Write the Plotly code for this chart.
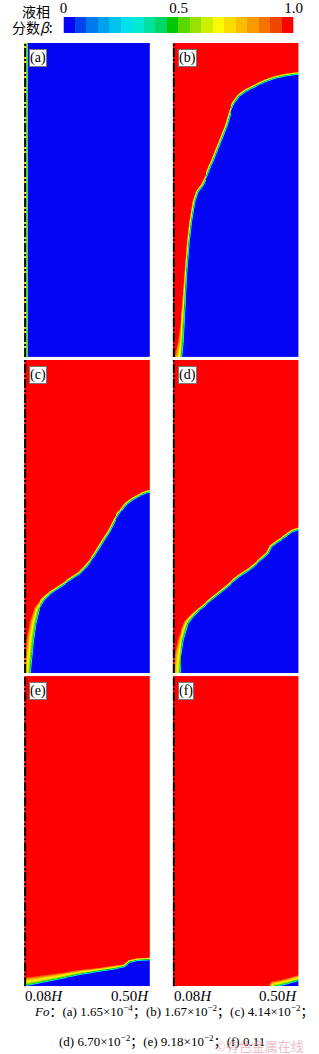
import numpy as np
import plotly.graph_objects as go

# ---------------- data ----------------
# legend colour levels (liquid fraction beta, 20 bands from 0 to 1)
level_colors = [
    "rgb(5,5,245)", "rgb(0,70,240)", "rgb(0,120,238)", "rgb(0,160,236)",
    "rgb(0,195,235)", "rgb(0,225,235)", "rgb(0,235,210)", "rgb(0,225,160)",
    "rgb(0,215,100)", "rgb(0,200,0)", "rgb(90,215,0)", "rgb(150,225,0)",
    "rgb(205,240,0)", "rgb(250,250,0)", "rgb(250,220,0)", "rgb(250,190,0)",
    "rgb(250,155,0)", "rgb(248,115,0)", "rgb(240,70,0)", "rgb(255,0,0)",
]
legend_tickvals = [0.0, 0.5, 1.0]
legend_ticktext = ["0", "0.5", "1.0"]

panel_labels = ["(a)", "(b)", "(c)", "(d)", "(e)", "(f)"]
fo_values = ["1.65×10<sup>−4</sup>", "1.67×10<sup>−2</sup>", "4.14×10<sup>−2</sup>",
             "6.70×10<sup>−2</sup>", "9.18×10<sup>−2</sup>", "0.11"]
x_axis_labels = ["0.08<i>H</i>", "0.50<i>H</i>"]

# solid/liquid interface of each panel (fractions of the panel: x from 0.08H to 0.50H, y bottom->top)
# and mushy-zone thickness on the liquid side (px)
a_x = [0.023, 0.023]
a_y = [0.0, 1.0]
a_w = [3.5, 3.5]

b_x = [0.069, 0.081, 0.094, 0.107, 0.127, 0.145, 0.170, 0.195, 0.234, 0.272, 0.322,
       0.373, 0.424, 0.462, 0.487, 0.525, 0.576, 0.652, 0.741, 0.817, 0.906, 1.0]
b_y = [0.0, 0.048, 0.154, 0.26, 0.366, 0.43, 0.493, 0.525, 0.546, 0.578, 0.631,
       0.684, 0.737, 0.79, 0.811, 0.832, 0.848, 0.864, 0.88, 0.891, 0.898, 0.903]
b_w = [8, 6, 3, 2, 2, 2, 2, 2, 2, 2, 2, 2, 2, 2, 2, 2, 2, 2, 2, 2, 2, 2]

c_x = [0.043, 0.056, 0.069, 0.087, 0.112, 0.158, 0.209, 0.286, 0.362, 0.439, 0.49,
       0.554, 0.617, 0.681, 0.719, 0.77, 0.809, 0.86, 0.923, 0.974, 1.0]
c_y = [0.0, 0.053, 0.106, 0.159, 0.202, 0.234, 0.255, 0.276, 0.297, 0.318, 0.34,
       0.372, 0.414, 0.456, 0.488, 0.52, 0.541, 0.557, 0.571, 0.579, 0.581]
c_w = [7, 7, 7, 6, 5, 3, 2, 2, 2, 2, 2, 2, 2, 2, 2, 2, 2, 2, 2, 2, 2]

d_x = [0.051, 0.061, 0.081, 0.119, 0.157, 0.208, 0.272, 0.335, 0.398, 0.462, 0.525,
       0.602, 0.665, 0.728, 0.754, 0.779, 0.83, 0.893, 0.944, 1.0]
d_y = [0.0, 0.053, 0.106, 0.159, 0.18, 0.202, 0.223, 0.244, 0.265, 0.287, 0.308,
       0.329, 0.35, 0.372, 0.382, 0.403, 0.419, 0.435, 0.451, 0.459]
d_w = [7, 7, 6, 4, 3, 2, 2, 2, 2, 2, 2, 2, 2, 2, 2, 2, 2, 2, 2, 2]

e_x = [0.005, 0.107, 0.209, 0.337, 0.464, 0.592, 0.719, 0.796, 0.834, 0.898, 1.0]
e_y = [0.003, 0.011, 0.019, 0.030, 0.041, 0.049, 0.057, 0.064, 0.078, 0.084, 0.086]
e_w = [8, 7, 6, 5, 4, 3, 3, 2, 2, 2, 2]

f_x = [0.80, 0.90, 1.0]
f_y = [0.0, 0.008, 0.02]
f_w = [5, 5, 5]

interfaces = [(a_x, a_y, a_w), (b_x, b_y, b_w), (c_x, c_y, c_w),
              (d_x, d_y, d_w), (e_x, e_y, e_w), (f_x, f_y, f_w)]

# ---------------- layout geometry (px) ----------------
W, H = 319, 1054
cols_px = [(21, 152), (176, 307)]
rows_px = [(40, 355), (358, 672), (675, 986)]


def py(p):
    return 1 - p / H


def px(p):
    return p / W


def beta_field(ix, iy, iw, pw, ph, ws=1.5):
    nx, ny = int(round(pw)), int(round(ph))
    xc = (np.arange(nx) + 0.5) / nx
    yc = (np.arange(ny) + 0.5) / ny
    X, Y = np.meshgrid(xc, yc)
    PX, PY = X * pw, Y * ph
    cx = np.asarray(ix, float) * pw
    cy = np.asarray(iy, float) * ph
    cw = np.asarray(iw, float)
    best = np.full(X.shape, np.inf)
    wbest = np.full(X.shape, 2.0)
    for k in range(len(cx) - 1):
        dx, dy = cx[k + 1] - cx[k], cy[k + 1] - cy[k]
        L2 = dx * dx + dy * dy
        if L2 > 0:
            t = np.clip(((PX - cx[k]) * dx + (PY - cy[k]) * dy) / L2, 0, 1)
        else:
            t = np.zeros(X.shape)
        d = np.hypot(PX - (cx[k] + t * dx), PY - (cy[k] + t * dy))
        m = d < best
        best = np.where(m, d, best)
        wbest = np.where(m, cw[k] + t * (cw[k + 1] - cw[k]), wbest)
    solid = X > np.interp(Y, iy, ix, right=np.inf)
    s = np.where(solid, -best, best)
    beta = np.where(s >= 0, 0.5 + 0.5 * np.clip(s / wbest, 0, 1),
                    0.5 + 0.5 * np.clip(s / ws, -1, 0))
    return xc, yc, beta


n = len(level_colors)
colorscale = [[i / (n - 1), c] for i, c in enumerate(level_colors)]

fig = go.Figure()
layout = dict(width=W, height=H, margin=dict(l=0, r=0, t=0, b=0),
              paper_bgcolor="white", plot_bgcolor="white", showlegend=False)

annotations = []
shapes = []
serif = "Liberation Serif, Noto Sans CJK SC"

for k in range(6):
    r, c = divmod(k, 2)
    x0, x1 = cols_px[c]
    y0, y1 = rows_px[r]
    ix, iy, iw = interfaces[k]
    xc, yc, beta = beta_field(ix, iy, iw, x1 - x0, y1 - y0)
    ax = "" if k == 0 else str(k + 1)
    fig.add_trace(go.Heatmap(x=xc, y=yc, z=beta, zmin=0, zmax=1, colorscale=colorscale,
                             showscale=False, xaxis="x" + ax, yaxis="y" + ax,
                             hoverinfo="skip"))
    layout["xaxis" + ax] = dict(domain=[px(x0), px(x1)], range=[0, 1], visible=False,
                                anchor="y" + ax, fixedrange=True)
    layout["yaxis" + ax] = dict(domain=[py(y1), py(y0)], range=[0, 1], visible=False,
                                anchor="x" + ax, fixedrange=True)
    # symmetry axis (dash-dot line at the wall)
    shapes.append(dict(type="line", xref="x" + ax + " domain", yref="y" + ax + " domain",
                       x0=0.008, x1=0.008, y0=0, y1=1,
                       line=dict(color="black", width=2, dash="9px,2px,2px,2px")))
    # panel label
    annotations.append(dict(text=panel_labels[k], xref="paper", yref="paper",
                            x=px(x0 + 5), y=py(y0 + 6), xanchor="left", yanchor="top",
                            showarrow=False, bgcolor="white", bordercolor="#777",
                            borderwidth=1, borderpad=0,
                            font=dict(family=serif, size=14, color="black")))

# bottom axis labels
for c in range(2):
    x0, x1 = cols_px[c]
    annotations.append(dict(text=x_axis_labels[0], xref="paper", yref="paper",
                            x=px(x0 - 1), y=py(996), xanchor="left", yanchor="middle",
                            showarrow=False, font=dict(family=serif, size=15, color="black")))
    annotations.append(dict(text=x_axis_labels[1], xref="paper", yref="paper",
                            x=px(x1 + 1), y=py(996), xanchor="right", yanchor="middle",
                            showarrow=False, font=dict(family=serif, size=15, color="black")))

# legend bar at the top
fig.add_trace(go.Heatmap(x=[(i + 0.5) / n for i in range(n)], y=[0], z=[list(range(n))],
                         zmin=0, zmax=n - 1, colorscale=colorscale, showscale=False,
                         xaxis="x7", yaxis="y7", hoverinfo="skip"))
layout["xaxis7"] = dict(domain=[px(62), px(302)], range=[0, 1], side="top",
                        tickvals=legend_tickvals, ticktext=legend_ticktext, ticks="",
                        showgrid=False, zeroline=False, showline=False, anchor="y7",
                        tickfont=dict(family=serif, size=15, color="black"), fixedrange=True)
layout["yaxis7"] = dict(domain=[py(30), py(14)], range=[-0.5, 0.5], visible=False,
                        anchor="x7", fixedrange=True)

cjk = "Noto Sans CJK SC"
annotations.append(dict(text="液相", xref="paper", yref="paper", x=px(33), y=py(8),
                        xanchor="center", yanchor="middle", showarrow=False,
                        font=dict(family=cjk, size=14, color="black")))
annotations.append(dict(text="分数<i>β</i>:", xref="paper", yref="paper", x=px(30), y=py(24),
                        xanchor="center", yanchor="middle", showarrow=False,
                        font=dict(family=cjk, size=14, color="black")))

# caption
line1 = "<i>Fo</i>：(a) " + fo_values[0] + "；(b) " + fo_values[1] + "；(c) " + fo_values[2] + "；"
line2 = "(d) " + fo_values[3] + "；(e) " + fo_values[4] + "；(f) " + fo_values[5]
annotations.append(dict(text=line1, xref="paper", yref="paper", x=px(177), y=py(1011),
                        xanchor="center", yanchor="middle", showarrow=False,
                        font=dict(family=serif, size=13, color="black")))
annotations.append(dict(text=line2, xref="paper", yref="paper", x=px(165), y=py(1041),
                        xanchor="center", yanchor="middle", showarrow=False,
                        font=dict(family=serif, size=13, color="black")))
annotations.append(dict(text="©有色金属在线", xref="paper", yref="paper", x=px(315), y=py(1045),
                        xanchor="right", yanchor="middle", showarrow=False,
                        font=dict(family=cjk, size=13, color="rgba(225,140,160,0.6)")))

layout["annotations"] = annotations
layout["shapes"] = shapes
fig.update_layout(**layout)
fig.write_html("out.html")
